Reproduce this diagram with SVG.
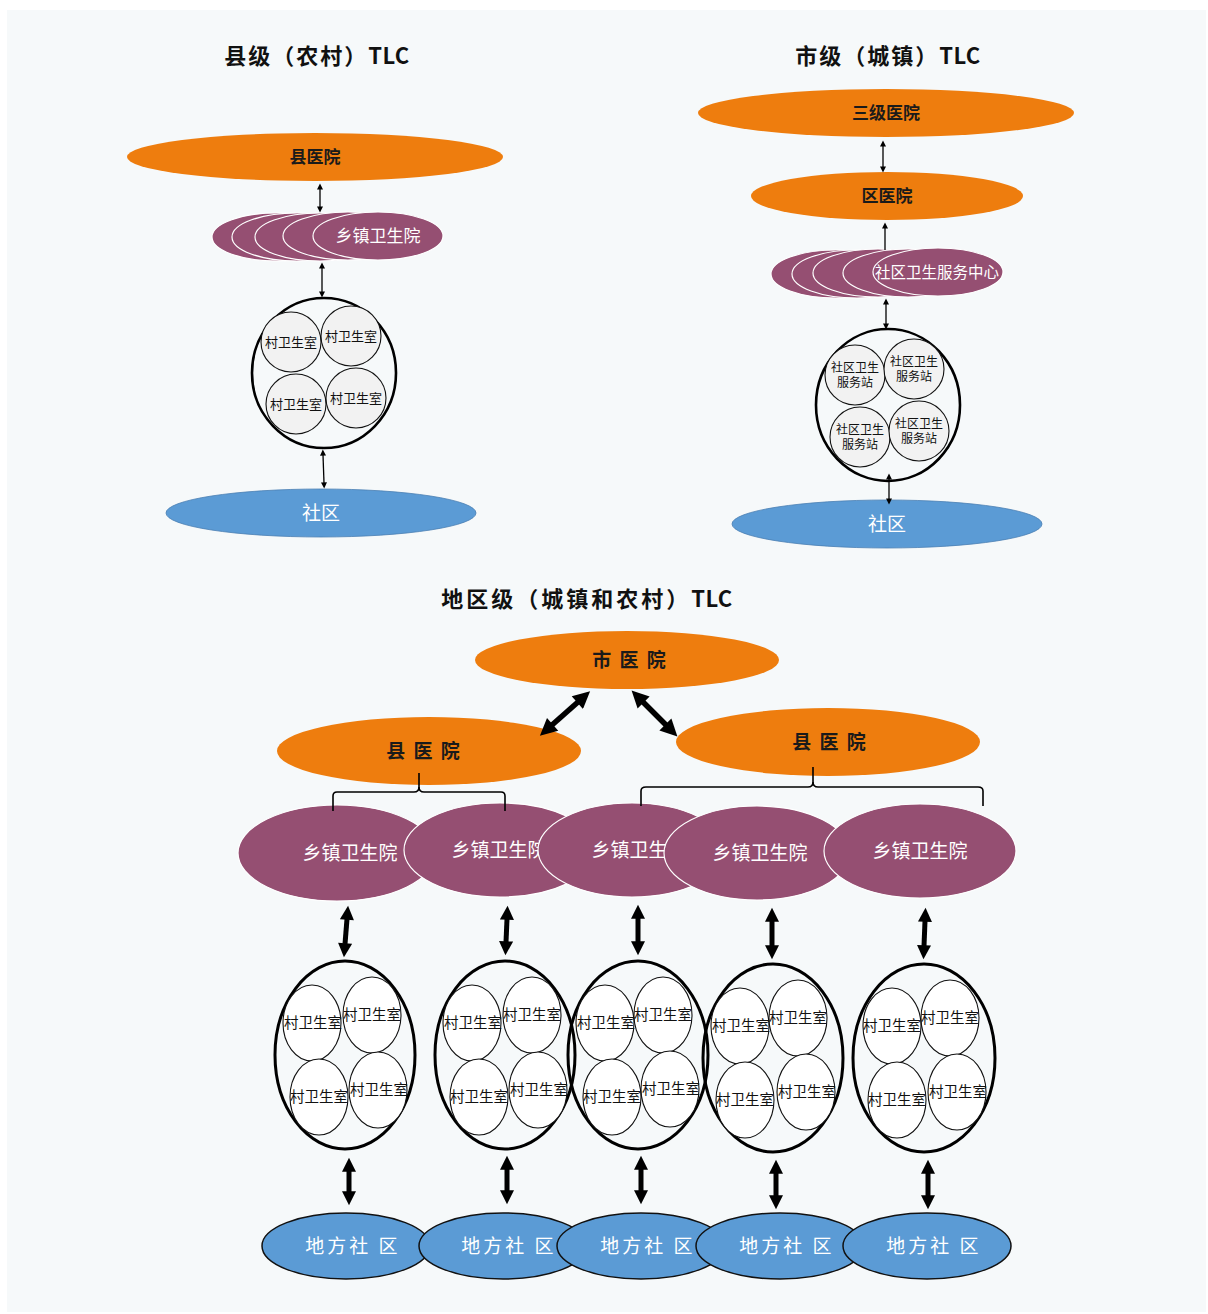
<svg xmlns="http://www.w3.org/2000/svg" width="1208" height="1314" viewBox="0 0 1208 1314">
  <defs>
    <style>
      .title { font-family: "Noto Sans CJK SC", "Liberation Sans", sans-serif; font-weight: 700; font-size: 22px; fill: #111; letter-spacing: 2px; }
      .hosp { fill: #EE7D0E; }
      .hosp-t { font-family: "Noto Sans CJK SC", sans-serif; font-weight: 700; fill: #1a1a1a; }
      .town { fill: #954F72; stroke: #ffffff; stroke-width: 1.2; }
      .town-t { font-family: "Noto Sans CJK SC", sans-serif; fill: #ffffff; }
      .comm { fill: #5B9BD5; stroke: #4A7FB3; stroke-width: 0.8; }
      .local { fill: #5B9BD5; stroke: #111; stroke-width: 1.5; }
      .comm-t { font-family: "Noto Sans CJK SC", sans-serif; fill: #ffffff; }
      .ring { fill: none; stroke: #000; stroke-width: 3; }
      .cell { fill: #F2F2F2; stroke: #111; stroke-width: 1.1; }
      .cellw { fill: #ffffff; stroke: #111; stroke-width: 1.1; }
      .cell-t { font-family: "Liberation Serif", "Noto Sans CJK SC", serif; fill: #111; }
      .thin { stroke: #000; stroke-width: 1.3; fill: none; }
      .thick { stroke: #000; stroke-width: 5; fill: none; }
      .brace { stroke: #000; stroke-width: 1.6; fill: none; }
    </style>
    <marker id="hs" viewBox="0 0 10 10" refX="1" refY="5" markerWidth="7" markerHeight="6" markerUnits="userSpaceOnUse" orient="auto-start-reverse">
      <path d="M0,0 L10,5 L0,10 z" fill="#000"/>
    </marker>
    <marker id="hb" viewBox="0 0 10 10" refX="0.5" refY="5" markerWidth="17" markerHeight="14" markerUnits="userSpaceOnUse" orient="auto-start-reverse">
      <path d="M0,0 L10,5 L0,10 z" fill="#000"/>
    </marker>
    <marker id="hd" viewBox="0 0 10 10" refX="0.5" refY="5" markerWidth="20" markerHeight="17" markerUnits="userSpaceOnUse" orient="auto-start-reverse">
      <path d="M0,0 L10,5 L0,10 z" fill="#000"/>
    </marker>
  </defs>

  <!-- page -->
  <rect x="0" y="0" width="1208" height="1314" fill="#ffffff"/>
  <rect x="7" y="10" width="1199" height="1302" fill="#F6F9FA"/>

  <!-- section titles -->
  <g id="titles">
    <text class="title" x="317" y="64" text-anchor="middle">县级（农村）<tspan style="letter-spacing:0.5px">TLC</tspan></text>
    <text class="title" x="888" y="64" text-anchor="middle">市级（城镇）<tspan style="letter-spacing:0.5px">TLC</tspan></text>
    <text class="title" x="587" y="607" text-anchor="middle" style="letter-spacing:3px">地区级（城镇和农村）<tspan style="letter-spacing:0.5px">TLC</tspan></text>
  </g>

  <!-- ===== county (rural) tier ===== -->
  <g id="county-hospital">
    <ellipse class="hosp" cx="315" cy="157" rx="188" ry="24"/>
    <text class="hosp-t" x="315" y="163" font-size="17" text-anchor="middle">县医院</text>
  </g>
  <g id="township-stack">
    <ellipse class="town" cx="277" cy="237" rx="65" ry="24"/>
    <ellipse class="town" cx="297" cy="237" rx="65" ry="24"/>
    <ellipse class="town" cx="320" cy="237" rx="65" ry="24"/>
    <ellipse class="town" cx="348" cy="236" rx="65" ry="24"/>
    <ellipse class="town" cx="378" cy="236" rx="65" ry="24"/>
    <text class="town-t" x="378" y="242" font-size="17" text-anchor="middle">乡镇卫生院</text>
  </g>
  <g id="village-cluster">
    <ellipse class="ring" cx="324" cy="373" rx="72" ry="75" style="stroke-width:2.6"/>
    <circle class="cell" cx="291" cy="342" r="30"/>
    <circle class="cell" cx="351" cy="336" r="30"/>
    <circle class="cell" cx="296" cy="404" r="30"/>
    <circle class="cell" cx="356" cy="398" r="30"/>
    <g class="cell-t" font-size="13" text-anchor="middle">
      <text x="291" y="347">村卫生室</text>
      <text x="351" y="341">村卫生室</text>
      <text x="296" y="409">村卫生室</text>
      <text x="356" y="403">村卫生室</text>
    </g>
  </g>
  <g id="community-left">
    <ellipse class="comm" cx="321" cy="513" rx="155" ry="24"/>
    <text class="comm-t" x="321" y="520" font-size="19" text-anchor="middle">社区</text>
  </g>

  <!-- ===== city (urban) tier ===== -->
  <g id="tertiary-hospital">
    <ellipse class="hosp" cx="886" cy="113" rx="188" ry="24"/>
    <text class="hosp-t" x="886" y="119" font-size="17" text-anchor="middle">三级医院</text>
  </g>
  <g id="district-hospital">
    <ellipse class="hosp" cx="887" cy="196" rx="136" ry="24"/>
    <text class="hosp-t" x="887" y="202" font-size="17" text-anchor="middle">区医院</text>
  </g>
  <g id="health-center-stack">
    <ellipse class="town" cx="836" cy="274" rx="65" ry="24"/>
    <ellipse class="town" cx="857" cy="274" rx="65" ry="24"/>
    <ellipse class="town" cx="878" cy="273" rx="65" ry="24"/>
    <ellipse class="town" cx="908" cy="273" rx="65" ry="24"/>
    <ellipse class="town" cx="938" cy="272" rx="65" ry="24"/>
    <text class="town-t" x="937" y="278" font-size="15.5" text-anchor="middle">社区卫生服务中心</text>
  </g>
  <g id="station-cluster">
    <ellipse class="ring" cx="888" cy="405" rx="72" ry="76" style="stroke-width:2.6"/>
    <circle class="cell" cx="855" cy="375" r="30"/>
    <circle class="cell" cx="914" cy="369" r="30"/>
    <circle class="cell" cx="860" cy="437" r="30"/>
    <circle class="cell" cx="919" cy="431" r="30"/>
    <g class="cell-t" font-size="12" text-anchor="middle">
      <text x="855" y="372">社区卫生</text><text x="855" y="387">服务站</text>
      <text x="914" y="366">社区卫生</text><text x="914" y="381">服务站</text>
      <text x="860" y="434">社区卫生</text><text x="860" y="449">服务站</text>
      <text x="919" y="428">社区卫生</text><text x="919" y="443">服务站</text>
    </g>
  </g>
  <g id="community-right">
    <ellipse class="comm" cx="887" cy="524" rx="155" ry="24"/>
    <text class="comm-t" x="887" y="531" font-size="19" text-anchor="middle">社区</text>
  </g>

  <!-- ===== regional tier ===== -->
  <g id="city-hospital">
    <ellipse class="hosp" cx="627" cy="660" rx="152" ry="29"/>
    <text class="hosp-t" x="630" y="667" font-size="19" text-anchor="middle" style="letter-spacing:2px">市 医 院</text>
  </g>
  <g id="county-hospital-a">
    <ellipse class="hosp" cx="429" cy="751" rx="152" ry="34"/>
    <text class="hosp-t" x="424" y="758" font-size="19" text-anchor="middle" style="letter-spacing:2px">县 医 院</text>
  </g>
  <g id="county-hospital-b">
    <ellipse class="hosp" cx="828" cy="742" rx="152" ry="34"/>
    <text class="hosp-t" x="830" y="749" font-size="19" text-anchor="middle" style="letter-spacing:2px">县 医 院</text>
  </g>

  <g id="township-1">
    <ellipse class="town" cx="337" cy="853" rx="99" ry="48"/>
    <text class="town-t" x="350" y="860" font-size="19" text-anchor="middle">乡镇卫生院</text>
  </g>
  <g id="township-2">
    <ellipse class="town" cx="500" cy="850" rx="96" ry="47"/>
    <text class="town-t" x="499" y="857" font-size="19" text-anchor="middle">乡镇卫生院</text>
  </g>
  <g id="township-3">
    <ellipse class="town" cx="632" cy="850" rx="94" ry="47"/>
    <text class="town-t" x="639" y="857" font-size="19" text-anchor="middle">乡镇卫生院</text>
  </g>
  <g id="township-4">
    <ellipse class="town" cx="757" cy="853" rx="93" ry="47"/>
    <text class="town-t" x="760" y="860" font-size="19" text-anchor="middle">乡镇卫生院</text>
  </g>
  <g id="township-5">
    <ellipse class="town" cx="920" cy="851" rx="96" ry="47"/>
    <text class="town-t" x="920" y="858" font-size="19" text-anchor="middle">乡镇卫生院</text>
  </g>

  <!-- village clinic clusters: one ring holding four clinics each -->
  <g id="villages-1" transform="translate(345 1055)">
    <ellipse class="ring" cx="0" cy="0" rx="70" ry="94"/>
    <ellipse class="cellw" cx="-33" cy="-32" rx="29" ry="38"/>
    <ellipse class="cellw" cx="27" cy="-40" rx="29" ry="38"/>
    <ellipse class="cellw" cx="-26" cy="42" rx="29" ry="38"/>
    <ellipse class="cellw" cx="33" cy="35" rx="29" ry="38"/>
    <g class="cell-t" font-size="14.5" text-anchor="middle">
      <text x="-32" y="-27">村卫生室</text><text x="27" y="-35">村卫生室</text>
      <text x="-26" y="47">村卫生室</text><text x="34" y="40">村卫生室</text>
    </g>
  </g>
  <g id="villages-2" transform="translate(505 1055)">
    <ellipse class="ring" cx="0" cy="0" rx="70" ry="94"/>
    <ellipse class="cellw" cx="-33" cy="-32" rx="29" ry="38"/>
    <ellipse class="cellw" cx="27" cy="-40" rx="29" ry="38"/>
    <ellipse class="cellw" cx="-26" cy="42" rx="29" ry="38"/>
    <ellipse class="cellw" cx="33" cy="35" rx="29" ry="38"/>
    <g class="cell-t" font-size="14.5" text-anchor="middle">
      <text x="-32" y="-27">村卫生室</text><text x="27" y="-35">村卫生室</text>
      <text x="-26" y="47">村卫生室</text><text x="34" y="40">村卫生室</text>
    </g>
  </g>
  <g id="villages-3" transform="translate(638 1055)">
    <ellipse class="ring" cx="0" cy="0" rx="70" ry="94"/>
    <ellipse class="cellw" cx="-33" cy="-32" rx="29" ry="38"/>
    <ellipse class="cellw" cx="25" cy="-40" rx="29" ry="38"/>
    <ellipse class="cellw" cx="-26" cy="42" rx="29" ry="38"/>
    <ellipse class="cellw" cx="32" cy="34" rx="29" ry="38"/>
    <g class="cell-t" font-size="14.5" text-anchor="middle">
      <text x="-32" y="-27">村卫生室</text><text x="25" y="-35">村卫生室</text>
      <text x="-26" y="47">村卫生室</text><text x="33" y="39">村卫生室</text>
    </g>
  </g>
  <g id="villages-4" transform="translate(773 1058)">
    <ellipse class="ring" cx="0" cy="0" rx="70" ry="94"/>
    <ellipse class="cellw" cx="-33" cy="-32" rx="29" ry="38"/>
    <ellipse class="cellw" cx="25" cy="-40" rx="29" ry="38"/>
    <ellipse class="cellw" cx="-28" cy="42" rx="29" ry="38"/>
    <ellipse class="cellw" cx="33" cy="34" rx="29" ry="38"/>
    <g class="cell-t" font-size="14.5" text-anchor="middle">
      <text x="-32" y="-27">村卫生室</text><text x="25" y="-35">村卫生室</text>
      <text x="-28" y="47">村卫生室</text><text x="34" y="39">村卫生室</text>
    </g>
  </g>
  <g id="villages-5" transform="translate(924 1058)">
    <ellipse class="ring" cx="0" cy="0" rx="71" ry="94"/>
    <ellipse class="cellw" cx="-32" cy="-32" rx="29" ry="38"/>
    <ellipse class="cellw" cx="26" cy="-40" rx="29" ry="38"/>
    <ellipse class="cellw" cx="-27" cy="42" rx="29" ry="38"/>
    <ellipse class="cellw" cx="33" cy="34" rx="29" ry="38"/>
    <g class="cell-t" font-size="14.5" text-anchor="middle">
      <text x="-32" y="-27">村卫生室</text><text x="26" y="-35">村卫生室</text>
      <text x="-27" y="47">村卫生室</text><text x="34" y="39">村卫生室</text>
    </g>
  </g>

  <g id="local-1">
    <ellipse class="local" cx="346" cy="1246" rx="84" ry="33"/>
    <text class="comm-t" x="353" y="1253" font-size="19" text-anchor="middle" style="letter-spacing:3px">地方社 区</text>
  </g>
  <g id="local-2">
    <ellipse class="local" cx="503" cy="1246" rx="84" ry="33"/>
    <text class="comm-t" x="509" y="1253" font-size="19" text-anchor="middle" style="letter-spacing:3px">地方社 区</text>
  </g>
  <g id="local-3">
    <ellipse class="local" cx="641" cy="1246" rx="84" ry="33"/>
    <text class="comm-t" x="648" y="1253" font-size="19" text-anchor="middle" style="letter-spacing:3px">地方社 区</text>
  </g>
  <g id="local-4">
    <ellipse class="local" cx="780" cy="1246" rx="84" ry="33"/>
    <text class="comm-t" x="787" y="1253" font-size="19" text-anchor="middle" style="letter-spacing:3px">地方社 区</text>
  </g>
  <g id="local-5">
    <ellipse class="local" cx="927" cy="1246" rx="84" ry="33"/>
    <text class="comm-t" x="934" y="1253" font-size="19" text-anchor="middle" style="letter-spacing:3px">地方社 区</text>
  </g>

  <!-- connectors -->
  <g id="connectors">
    <!-- county tier -->
    <line class="thin" x1="320" y1="189" x2="320" y2="207" marker-start="url(#hs)" marker-end="url(#hs)"/>
    <line class="thin" x1="322" y1="268" x2="322" y2="292" marker-start="url(#hs)" marker-end="url(#hs)"/>
    <line class="thin" x1="323" y1="455" x2="324" y2="483" marker-start="url(#hs)" marker-end="url(#hs)"/>
    <!-- city tier -->
    <line class="thin" x1="883" y1="146" x2="883" y2="167" marker-start="url(#hs)" marker-end="url(#hs)"/>
    <line class="thin" x1="885" y1="250" x2="885" y2="228" marker-end="url(#hs)"/>
    <line class="thin" x1="886" y1="304" x2="886" y2="324" marker-start="url(#hs)" marker-end="url(#hs)"/>
    <line class="thin" x1="889" y1="479" x2="889" y2="499" marker-start="url(#hs)" marker-end="url(#hs)"/>

    <!-- city hospital to county hospitals -->
    <line class="thick" x1="578" y1="702" x2="552" y2="725" style="stroke-width:5.5" marker-start="url(#hd)" marker-end="url(#hd)"/>
    <line class="thick" x1="643" y1="702" x2="666" y2="725" style="stroke-width:5.5" marker-start="url(#hd)" marker-end="url(#hd)"/>

    <!-- county hospital braces -->
    <path class="brace" d="M419,773 V787 Q419,792 414,792 H337 Q333,792 333,796 V811"/>
    <path class="brace" d="M419,787 Q419,792 424,792 H501 Q505,792 505,796 V811"/>
    <path class="brace" d="M813,767 V782 Q813,787 808,787 H646 Q641,787 641,791 V806"/>
    <path class="brace" d="M813,782 Q813,787 818,787 H978 Q983,787 983,791 V806"/>

    <!-- township to village clusters -->
    <line class="thick" x1="347" y1="919" x2="345" y2="944" marker-start="url(#hb)" marker-end="url(#hb)"/>
    <line class="thick" x1="507" y1="919" x2="506" y2="942" marker-start="url(#hb)" marker-end="url(#hb)"/>
    <line class="thick" x1="638" y1="918" x2="638" y2="942" marker-start="url(#hb)" marker-end="url(#hb)"/>
    <line class="thick" x1="772" y1="921" x2="772" y2="946" marker-start="url(#hb)" marker-end="url(#hb)"/>
    <line class="thick" x1="925" y1="921" x2="924" y2="946" marker-start="url(#hb)" marker-end="url(#hb)"/>

    <!-- village clusters to local communities -->
    <line class="thick" x1="349" y1="1171" x2="349" y2="1192" marker-start="url(#hb)" marker-end="url(#hb)"/>
    <line class="thick" x1="507" y1="1169" x2="507" y2="1191" marker-start="url(#hb)" marker-end="url(#hb)"/>
    <line class="thick" x1="641" y1="1169" x2="641" y2="1191" marker-start="url(#hb)" marker-end="url(#hb)"/>
    <line class="thick" x1="776" y1="1173" x2="776" y2="1196" marker-start="url(#hb)" marker-end="url(#hb)"/>
    <line class="thick" x1="928" y1="1173" x2="928" y2="1196" marker-start="url(#hb)" marker-end="url(#hb)"/>
  </g>
</svg>
